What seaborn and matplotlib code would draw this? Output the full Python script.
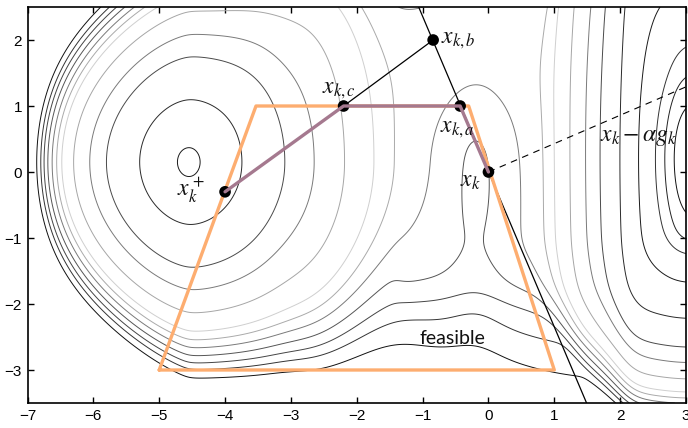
import numpy as np
import seaborn as sns
import matplotlib.pyplot as plt

# left basin: ring crossings on y = 0.15 (left / right of centre) and ring half heights
LEFT_CENTER = (-4.55, 0.15)
LEFT_DISTS = [0, 0.18, 0.78, 1.24, 1.60, 1.76, 1.88, 1.98, 2.06, 2.12, 2.19, 2.25, 2.34]
RIGHT_DISTS = [0, 0.15, 0.80, 1.42, 1.92, 2.35, 2.80, 3.21]
RING_RADII = [0, 0.22, 0.95, 1.60, 1.94, 2.29, 2.57, 2.70, 2.82, 2.94, 3.05, 3.15, 3.28]

# right basin: ring crossings on y = 0, measured from its centre
RIGHT_CENTER = (3.6, 0.2)
RB_DISTS = [0, 0.69, 0.79, 0.89, 1.09, 1.39, 1.57, 1.88, 2.15, 2.36, 2.61, 2.86]
RB_LEVELS = [-0.8, -0.6, -0.45, -0.3, -0.15, 0.22, 0.95, 1.60, 1.94, 2.29, 2.57, 2.70]
RB_UP_D, RB_UP_V = [0, 1.1, 2.3, 3.5], [0, 0.41, 0.83, 1.5]
RB_DOWN_D, RB_DOWN_V = [0, 1.2, 1.9, 2.6, 2.85, 3.7, 6.0], [0, 0.42, 1.0, 2.0, 2.4, 3.6, 7.0]
PLATEAU = 2.75

LEVELS = [-0.6, -0.45, -0.3, -0.15] + RING_RADII[1:]
LEVEL_COLORS = ["#000000", "#111111", "#222222", "#333333",
                "#1a1a1a", "#2a2a2a", "#4a4a4a", "#7a7a7a", "#a6a6a6", "#cfcfcf",
                "#aaaaaa", "#7a7a7a", "#555555", "#444444", "#333333", "#111111"]

# feasible set, projected path and the other marks
FEAS_X = [-5.0, -3.53, -0.30, 1.0, -5.0]
FEAS_Y = [-3.0, 1.0, 1.0, -3.0, -3.0]
PATH_X = [0.0, -0.43, -2.2, -4.0]
PATH_Y = [0.0, 1.0, 1.0, -0.3]
POINT_X = [0.0, -0.43, -0.84, -2.2, -4.0]
POINT_Y = [0.0, 1.0, 2.0, 1.0, -0.3]
LINE_X, LINE_Y = [-1.06, 1.49], [2.5, -3.5]
BC_X, BC_Y = [-0.84, -2.2], [2.0, 1.0]
DIR_X, DIR_Y = [0.0, 3.0], [0.0, 1.29]

sns.set_theme(style="ticks")
plt.rcParams["font.family"] = ["Liberation Sans", "DejaVu Sans"]
plt.rcParams["mathtext.fontset"] = "stix"


def pos(v):
    return 0.5 * (v + np.sqrt(v * v + 0.01))


def smooth_curve(knots_d, knots_v, lo, hi, sigma):
    # piecewise linear through the knots, then blurred so the rings have no corners
    grid = np.linspace(lo, hi, 4001)
    vals = np.interp(grid, knots_d, knots_v)
    step = grid[1] - grid[0]
    half = int(4 * sigma / step)
    kern = np.exp(-0.5 * (np.arange(-half, half + 1) * step / sigma) ** 2)
    kern /= kern.sum()
    vals = np.convolve(np.pad(vals, half, mode="reflect", reflect_type="odd"), kern, mode="valid")
    return grid, vals


xs = np.linspace(-7, 3, 700)
ys = np.linspace(-3.5, 2.5, 420)
X, Y = np.meshgrid(xs, ys)

# left basin: smooth fit through the left crossings, blurred curve through the right ones
ld = np.array(LEFT_DISTS[1:])
lr = np.array(RING_RADII[1:])
A = np.column_stack([ld, ld ** 6])
coef = np.linalg.lstsq(A, lr, rcond=None)[0]

rd_l = RIGHT_DISTS + [4.5, 10.0]
rr_l = RING_RADII[:8] + [PLATEAU, PLATEAU]
gx, gv = smooth_curve([-d for d in rd_l[:0:-1]] + rd_l, [-v for v in rr_l[:0:-1]] + rr_l,
                      -10.0, 10.0, 0.22)

dx = X - LEFT_CENTER[0]
dy = Y - LEFT_CENTER[1]
p = pos(dx)
hx = np.where(dx < 0, coef[0] * (-dx) + coef[1] * dx ** 6, np.interp(dx, gx, gv))
shrink = np.exp(0.13 * (dx - p))
sy = np.where(dy > 0, 1 + 0.155 * p ** 2, 1 + 0.85 * np.tanh(p ** 2 / 16)) * shrink
f_left = np.hypot(hx, dy / sy)

# right basin
rd = RB_DISTS + [3.5, 5.0, 7.0, 11.0]
rv = RB_LEVELS + [PLATEAU, 2.78, 4.0, 8.0]
rx, rvals = smooth_curve([-d for d in rd[::-1]] + rd[1:], rv[::-1] + rv[1:], -12.0, 12.0, 0.15)
ux, uv = smooth_curve(RB_UP_D, RB_UP_V, 0.0, 4.0, 0.15)
lx, lv = smooth_curve(RB_DOWN_D, RB_DOWN_V, 0.0, 7.0, 0.15)

dxr = X - RIGHT_CENTER[0]
dyr = Y - RIGHT_CENTER[1]
hr = np.interp(dxr, rx, rvals) + 0.8
vr = np.where(dyr > 0, np.interp(dyr, ux, uv), np.interp(-dyr, lx, lv))
f_right = np.hypot(hr, vr) - 0.8

k = 0.03
F = -k * np.logaddexp(-f_left / k, -f_right / k)

# tongue of high values coming up from below between the basins
tongue_y = (0.08 + 0.15 * np.exp(-(Y - 0.05) ** 2 / 2.0)) / (1 + np.exp((Y - 1.3) / 0.3))
tongue_x = 0.38 * np.exp(-(X + 0.2) ** 2 / (2 * 0.3 ** 2)) + 0.65 * np.exp(-(X + 0.2) ** 2 / (2 * 0.8 ** 2))
F = F + tongue_y * tongue_x

fig = plt.figure(figsize=(6.88, 4.28), dpi=100)
ax = fig.add_axes([27.5 / 688, 25 / 428, 658.5 / 688, 396 / 428])

ax.contour(X, Y, F, levels=LEVELS, colors=LEVEL_COLORS, linewidths=0.7, zorder=1)

sns.lineplot(x=LINE_X, y=LINE_Y, ax=ax, color="black", lw=0.9, sort=False, estimator=None, zorder=2)
sns.lineplot(x=BC_X, y=BC_Y, ax=ax, color="black", lw=0.9, sort=False, estimator=None, zorder=2)
sns.lineplot(x=DIR_X, y=DIR_Y, ax=ax, color="black", lw=0.8, linestyle=(0, (6, 5)),
             sort=False, estimator=None, zorder=2)
sns.lineplot(x=FEAS_X, y=FEAS_Y, ax=ax, color="#fdad70", lw=2.4, sort=False, estimator=None, zorder=3)
sns.scatterplot(x=POINT_X, y=POINT_Y, ax=ax, color="black", s=70, edgecolor="none", zorder=4)
sns.lineplot(x=PATH_X, y=PATH_Y, ax=ax, color="#a5798f", lw=2.4, sort=False, estimator=None, zorder=5)

lab = dict(fontsize=17, color="#111111", zorder=6)
ax.text(-0.72, 2.0, r"$x_{k,b}$", ha="left", va="center", **lab)
ax.text(-2.27, 1.08, r"$x_{k,c}$", ha="center", va="bottom", **lab)
ax.text(-0.47, 0.65, r"$x_{k,a}$", ha="center", va="center", **lab)
ax.text(-0.27, -0.14, r"$x_k$", ha="center", va="center", **lab)
ax.text(-4.52, -0.28, r"$x_k^+$", ha="center", va="center", **lab)
ax.text(1.70, 0.53, r"$x_k - \alpha g_k$", ha="left", va="center", **lab)
ax.text(-0.55, -2.53, "feasible", ha="center", va="center", fontsize=14,
        family=["Lato", "DejaVu Sans"], color="#111111", zorder=6)

ax.set_xlim(-7, 3)
ax.set_ylim(-3.5, 2.5)
ax.set_xticks(range(-7, 4))
ax.set_yticks(range(-3, 3))
ax.tick_params(direction="in", length=4, width=1, top=True, right=True,
               labelsize=11, colors="black", pad=4)
for s in ax.spines.values():
    s.set_linewidth(1.2)
    s.set_color("black")
    s.set_visible(True)

fig.savefig("out.png", dpi=100)
